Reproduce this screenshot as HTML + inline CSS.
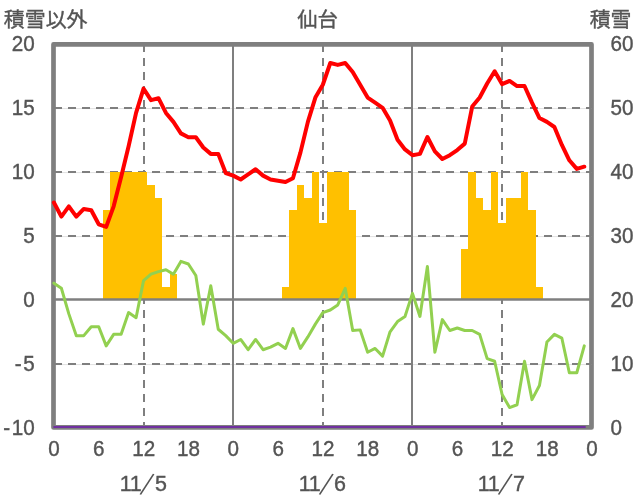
<!DOCTYPE html>
<html lang="ja"><head><meta charset="utf-8"><title>仙台</title>
<style>
html,body{margin:0;padding:0;background:#fff;}
body{width:636px;height:501px;overflow:hidden;}
svg{display:block;}
text{font-family:"Liberation Sans","Noto Sans CJK JP",sans-serif;fill:#545454;stroke:#545454;stroke-width:0.4px;}
.t{font-size:21px;}
.n{font-size:21.5px;}
.sl{font-family:"Noto Sans CJK JP",sans-serif;font-size:24px;stroke-width:0;}
</style></head><body>
<svg width="636" height="501" viewBox="0 0 636 501">
<rect width="636" height="501" fill="#fff"/>

<rect x="53.5" y="44.4" width="538.0" height="383.0" fill="none" stroke="#7f7f7f" stroke-width="4.7" stroke-linejoin="round"/>
<g stroke="#c4c4c4" stroke-width="0.5" fill="none">
<path d="M54 108.55H591.5"/>
<path d="M54 172.55H591.5"/>
<path d="M54 236.55H591.5"/>
<path d="M54 364.55H591.5"/>
</g>
<g stroke="#7f7f7f" stroke-width="2" fill="none" stroke-dasharray="8 6">
<path d="M54 108H591.5"/>
<path d="M54 172H591.5"/>
<path d="M54 236H591.5"/>
<path d="M54 364H591.5"/>
<path d="M144 44V427.4"/>
<path d="M323 44V427.4"/>
<path d="M502 44V427.4"/>
</g>
<g stroke="#7f7f7f" stroke-width="2" fill="none">
<path d="M233 44V427.4"/>
<path d="M412 44V427.4"/>
</g>
<g fill="#ffc000">
<rect x="103" y="210" width="7" height="89"/>
<rect x="110" y="172" width="8" height="127"/>
<rect x="118" y="172" width="7" height="127"/>
<rect x="125" y="172" width="7" height="127"/>
<rect x="132" y="172" width="8" height="127"/>
<rect x="140" y="172" width="7" height="127"/>
<rect x="147" y="185" width="8" height="114"/>
<rect x="155" y="198" width="7" height="101"/>
<rect x="162" y="287" width="8" height="12"/>
<rect x="170" y="274" width="7" height="25"/>
<rect x="282" y="287" width="7" height="12"/>
<rect x="289" y="210" width="8" height="89"/>
<rect x="297" y="185" width="7" height="114"/>
<rect x="304" y="198" width="8" height="101"/>
<rect x="312" y="172" width="7" height="127"/>
<rect x="319" y="223" width="8" height="76"/>
<rect x="327" y="172" width="7" height="127"/>
<rect x="334" y="172" width="8" height="127"/>
<rect x="342" y="172" width="7" height="127"/>
<rect x="349" y="210" width="7" height="89"/>
<rect x="461" y="249" width="7" height="50"/>
<rect x="468" y="172" width="8" height="127"/>
<rect x="476" y="198" width="7" height="101"/>
<rect x="483" y="210" width="8" height="89"/>
<rect x="491" y="172" width="7" height="127"/>
<rect x="498" y="223" width="8" height="76"/>
<rect x="506" y="198" width="7" height="101"/>
<rect x="513" y="198" width="8" height="101"/>
<rect x="521" y="172" width="7" height="127"/>
<rect x="528" y="210" width="8" height="89"/>
<rect x="536" y="287" width="7" height="12"/>
</g>
<path d="M53.5 299.5H591.5" stroke="#7f7f7f" stroke-width="2.7" fill="none"/>
<path d="M53.90 283.16 L61.37 288.28 L68.84 313.88 L76.31 335.64 L83.78 335.64 L91.25 326.68 L98.72 326.68 L106.19 345.88 L113.66 334.36 L121.13 334.36 L128.60 312.60 L136.07 317.72 L143.54 280.60 L151.01 274.20 L158.48 271.64 L165.95 269.72 L173.42 274.20 L180.89 261.40 L188.36 263.96 L195.83 275.48 L203.30 324.12 L210.77 285.72 L218.24 329.24 L225.71 335.64 L233.18 343.32 L240.65 339.48 L248.12 349.72 L255.59 339.48 L263.06 349.72 L270.53 347.16 L278.00 343.32 L285.47 348.44 L292.94 328.60 L300.41 348.44 L307.88 336.92 L315.35 324.12 L322.82 312.60 L330.29 310.04 L337.76 304.92 L345.23 288.28 L352.70 330.52 L360.17 329.88 L367.64 352.28 L375.11 348.44 L382.58 356.12 L390.05 331.80 L397.52 321.56 L404.99 316.44 L412.46 293.40 L419.93 316.44 L427.40 266.52 L434.87 352.28 L442.34 319.64 L449.81 330.52 L457.28 327.96 L464.75 330.52 L472.22 330.52 L479.69 334.36 L487.16 358.68 L494.63 361.24 L502.10 394.52 L509.57 407.58 L517.04 404.76 L524.51 361.24 L531.98 399.64 L539.45 385.56 L546.92 342.04 L554.39 334.36 L561.86 338.20 L569.33 372.76 L576.80 372.76 L584.27 345.88" stroke="#92d050" stroke-width="3" fill="none" stroke-linejoin="round" stroke-linecap="round"/>
<path d="M53.90 202.52 L61.37 216.60 L68.84 206.36 L76.31 216.60 L83.78 208.92 L91.25 210.20 L98.72 224.28 L106.19 226.84 L113.66 206.36 L121.13 176.92 L128.60 146.20 L136.07 112.92 L143.54 88.60 L151.01 100.12 L158.48 98.20 L165.95 112.92 L173.42 121.88 L180.89 133.40 L188.36 137.24 L195.83 137.24 L203.30 147.48 L210.77 153.88 L218.24 153.88 L225.71 173.08 L233.18 175.64 L240.65 179.48 L248.12 174.36 L255.59 169.24 L263.06 175.64 L270.53 179.48 L278.00 180.76 L285.47 182.04 L292.94 178.20 L300.41 152.60 L307.88 121.88 L315.35 97.56 L322.82 84.76 L330.29 63.00 L337.76 64.92 L345.23 63.00 L352.70 71.96 L360.17 84.76 L367.64 97.56 L375.11 102.68 L382.58 107.80 L390.05 120.60 L397.52 139.80 L404.99 149.40 L412.46 155.16 L419.93 153.88 L427.40 136.98 L434.87 151.32 L442.34 159.00 L449.81 155.16 L457.28 150.04 L464.75 143.64 L472.22 106.52 L479.69 97.56 L487.16 83.48 L494.63 71.32 L502.10 84.12 L509.57 80.92 L517.04 86.04 L524.51 86.04 L531.98 102.68 L539.45 118.04 L546.92 121.88 L554.39 127.00 L561.86 144.92 L569.33 160.28 L576.80 168.86 L584.27 166.68" stroke="#ff0000" stroke-width="4" fill="none" stroke-linejoin="round" stroke-linecap="round"/>
<path d="M54.20 427H584.86" stroke="#7030a0" stroke-width="2.2" fill="none" stroke-linecap="round"/>
<text class="t" transform="translate(3.8 26.7) scale(0.997 0.98)">積雪以外</text>
<text class="t" transform="translate(317.6 26.7) scale(0.975 0.97)" text-anchor="middle">仙台</text>
<text class="t" transform="translate(631.5 26.7) scale(0.997 0.98)" text-anchor="end">積雪</text>
<text class="n" transform="translate(34.8 50.6) scale(0.96 1.05)" text-anchor="end">20</text>
<text class="n" transform="translate(34.8 114.6) scale(0.96 1.05)" text-anchor="end">15</text>
<text class="n" transform="translate(34.8 178.6) scale(0.96 1.05)" text-anchor="end">10</text>
<text class="n" transform="translate(34.8 242.6) scale(0.96 1.05)" text-anchor="end">5</text>
<text class="n" transform="translate(34.8 306.6) scale(0.96 1.05)" text-anchor="end">0</text>
<text class="n" transform="translate(34.8 370.6) scale(0.96 1.05)" text-anchor="end">-<tspan dx="1.8">5</tspan></text>
<text class="n" transform="translate(34.8 434.6) scale(0.96 1.05)" text-anchor="end">-<tspan dx="1.8">10</tspan></text>
<text class="n" transform="translate(610.6 50.7) scale(0.96 1.05)">60</text>
<text class="n" transform="translate(610.6 114.7) scale(0.96 1.05)">50</text>
<text class="n" transform="translate(610.6 178.7) scale(0.96 1.05)">40</text>
<text class="n" transform="translate(610.6 242.7) scale(0.96 1.05)">30</text>
<text class="n" transform="translate(610.6 306.7) scale(0.96 1.05)">20</text>
<text class="n" transform="translate(610.6 370.7) scale(0.96 1.05)">10</text>
<text class="n" transform="translate(610.6 434.7) scale(0.96 1.05)">0</text>
<text class="n" transform="translate(54.0 456.0) scale(0.96 1.05)" text-anchor="middle">0</text>
<text class="n" transform="translate(98.8 456.0) scale(0.96 1.05)" text-anchor="middle">6</text>
<text class="n" transform="translate(143.7 456.0) scale(0.96 1.05)" text-anchor="middle">12</text>
<text class="n" transform="translate(188.5 456.0) scale(0.96 1.05)" text-anchor="middle">18</text>
<text class="n" transform="translate(233.3 456.0) scale(0.96 1.05)" text-anchor="middle">0</text>
<text class="n" transform="translate(278.2 456.0) scale(0.96 1.05)" text-anchor="middle">6</text>
<text class="n" transform="translate(323.0 456.0) scale(0.96 1.05)" text-anchor="middle">12</text>
<text class="n" transform="translate(367.8 456.0) scale(0.96 1.05)" text-anchor="middle">18</text>
<text class="n" transform="translate(412.7 456.0) scale(0.96 1.05)" text-anchor="middle">0</text>
<text class="n" transform="translate(457.5 456.0) scale(0.96 1.05)" text-anchor="middle">6</text>
<text class="n" transform="translate(502.3 456.0) scale(0.96 1.05)" text-anchor="middle">12</text>
<text class="n" transform="translate(547.2 456.0) scale(0.96 1.05)" text-anchor="middle">18</text>
<text class="n" transform="translate(592.0 456.0) scale(0.96 1.05)" text-anchor="middle">0</text>
<text class="n" y="491.3" text-anchor="middle"><tspan x="125.7">1</tspan><tspan x="135.7">1</tspan><tspan class="sl" x="145.3" dy="-1.2" rotate="16">/</tspan><tspan x="160.9" dy="1.2">5</tspan></text>
<text class="n" y="491.3" text-anchor="middle"><tspan x="304.8">1</tspan><tspan x="314.8">1</tspan><tspan class="sl" x="324.4" dy="-1.2" rotate="16">/</tspan><tspan x="340.0" dy="1.2">6</tspan></text>
<text class="n" y="491.3" text-anchor="middle"><tspan x="483.8">1</tspan><tspan x="493.8">1</tspan><tspan class="sl" x="503.4" dy="-1.2" rotate="16">/</tspan><tspan x="519.0" dy="1.2">7</tspan></text>
</svg></body></html>
